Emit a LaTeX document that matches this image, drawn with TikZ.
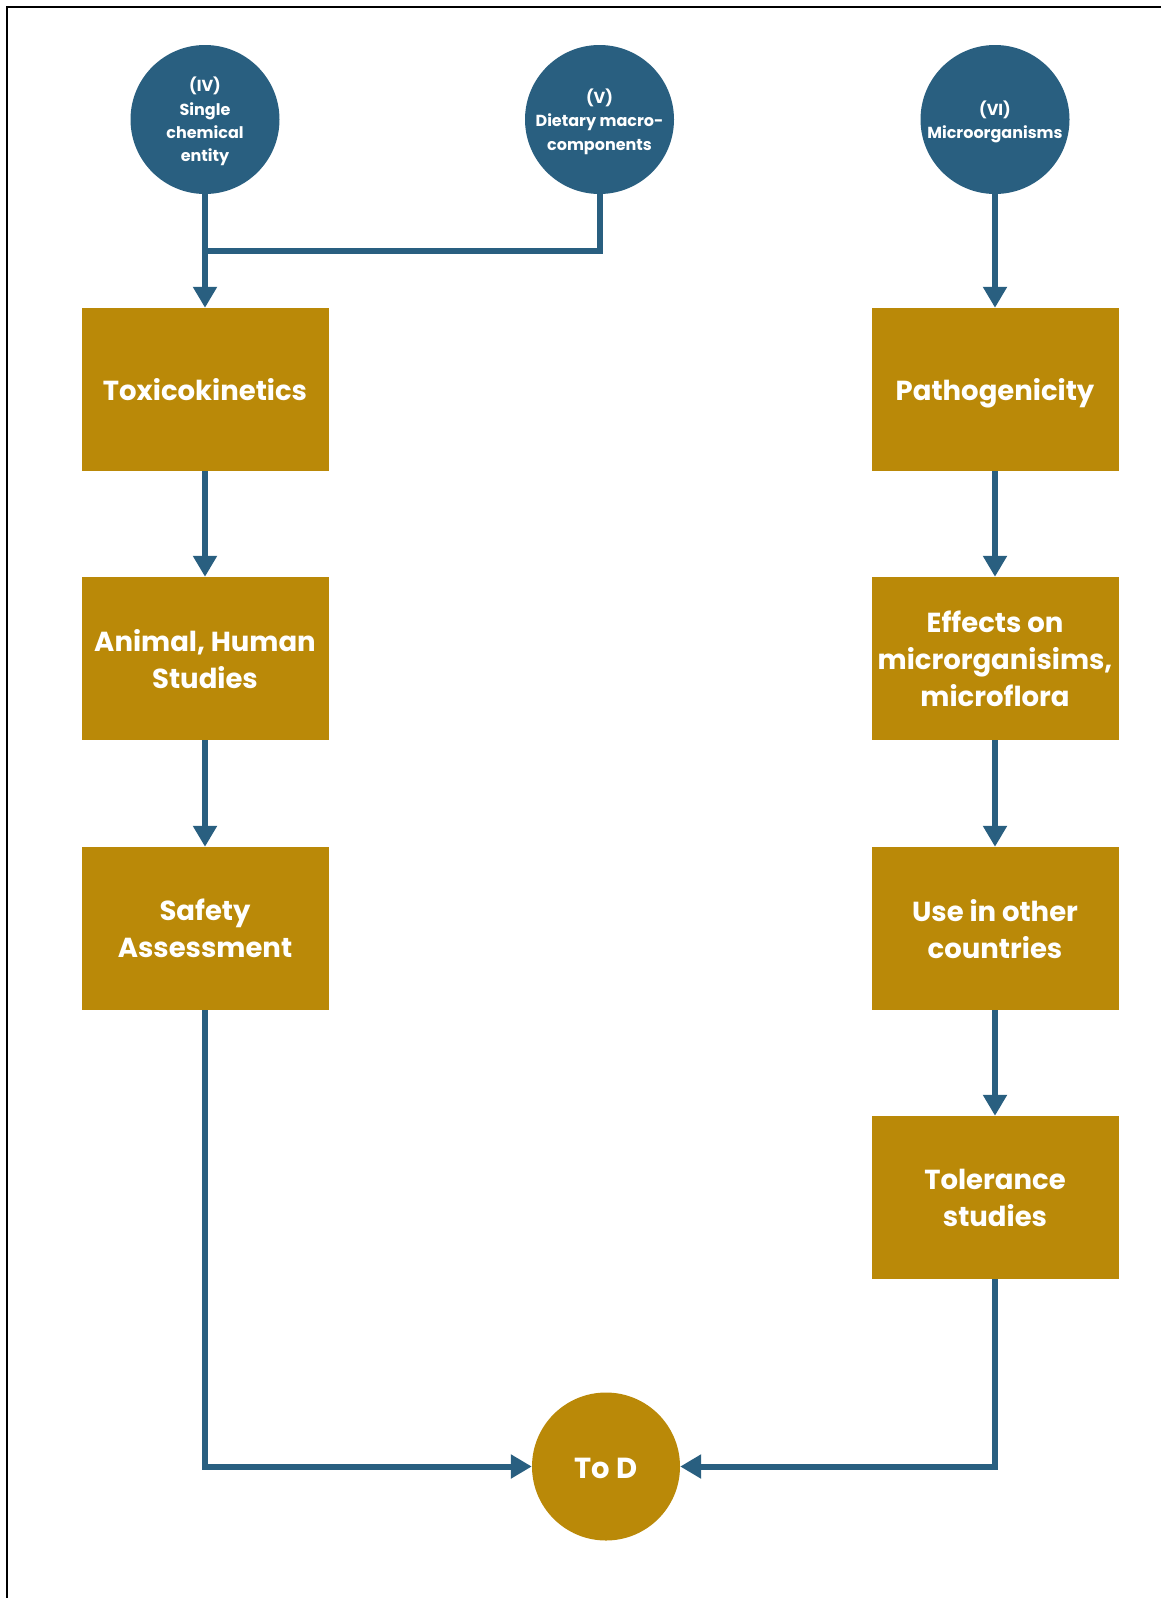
\documentclass[tikz,border=0pt]{standalone}
\usepackage{fontspec}
\setmainfont{Poppins}
\usetikzlibrary{arrows.meta,positioning}

\definecolor{flowblue}{RGB}{41,95,128}
\definecolor{flowgold}{RGB}{186,137,8}

% invisible rules that fix the vertical placement of node text
\newcommand{\boxstrut}{\rule[-8pt]{0pt}{38pt}}
\newcommand{\sinkstrut}{\rule{0pt}{25pt}}

\tikzset{
  source/.style={circle, fill=flowblue, minimum size=149pt, inner sep=0pt,
    text=white, align=center, font=\bfseries\fontsize{16}{23.4}\selectfont,
    text depth=-2pt},
  stepbox/.style={rectangle, fill=flowgold, minimum width=247pt, minimum height=163pt,
    inner sep=0pt, text=white, align=center, font=\bfseries\fontsize{27.5}{37}\selectfont,
    execute at begin node=\boxstrut, execute at end node=\boxstrut},
  multiline/.style={text depth=0pt},
  sink/.style={circle, fill=flowgold, minimum size=148pt, inner sep=0pt,
    text=white, font=\bfseries\fontsize{29}{36}\selectfont,
    execute at begin node=\sinkstrut},
  flow/.style={draw=flowblue, line width=6pt, -{Triangle[length=21pt,width=23pt]}},
  plainflow/.style={draw=flowblue, line width=6pt},
}

\begin{document}
\begin{tikzpicture}[x=1pt,y=-1pt]
  \useasboundingbox (0,0) rectangle (1160,1598);
  % frame (open at right and bottom)
  \draw[line width=2.6pt] (7,1600) -- (7,7) -- (1162,7);

  % source circles
  \node[source] (iv) at (205,119.5) {(IV)\\Single\\chemical\\entity};
  \node[source] (v)  at (599.5,119.5) {(V)\\Dietary macro-\\components};
  \node[source] (vi) at (995,119.5) {(VI)\\Microorganisms};

  % left column
  \node[stepbox] (tox)  at (205,389.5) {Toxicokinetics};
  \node[stepbox, multiline] (anim) at (205,658.5) {Animal, Human\\Studies};
  \node[stepbox, multiline] (safe) at (205,928.5) {Safety\\Assessment};

  % right column
  \node[stepbox] (path) at (995,389.5)  {Pathogenicity};
  \node[stepbox, multiline] (eff)  at (995,658.5)  {Effects on\\microrganisims,\\microflora};
  \node[stepbox, multiline] (use)  at (995,928.5)  {Use in other\\countries};
  \node[stepbox, multiline] (tol)  at (995,1197.5) {Tolerance\\studies};

  % end point
  \node[sink] (tod) at (606,1466.5) {To D};

  % connectors
  \coordinate (join) at (205,251);
  \draw[plainflow] (v.south) |- (join);
  \draw[flow] (iv.south) -- (tox.north);
  \draw[flow] (tox.south) -- (anim.north);
  \draw[flow] (anim.south) -- (safe.north);
  \draw[flow] (safe.south) |- (tod.west);

  \draw[flow] (vi.south) -- (path.north);
  \draw[flow] (path.south) -- (eff.north);
  \draw[flow] (eff.south) -- (use.north);
  \draw[flow] (use.south) -- (tol.north);
  \draw[flow] (tol.south) |- (tod.east);
\end{tikzpicture}
\end{document}
